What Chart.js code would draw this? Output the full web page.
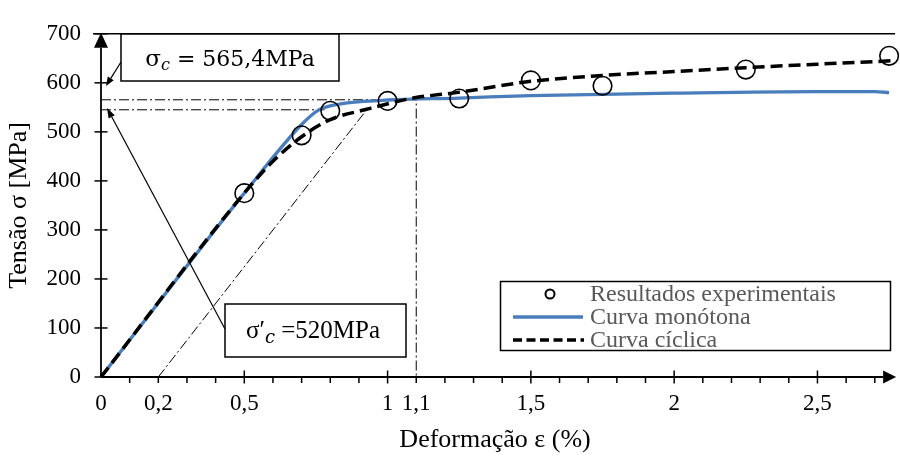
<!DOCTYPE html>
<html><head><meta charset="utf-8">
<script src="https://cdn.jsdelivr.net/npm/chart.js@4.4.0/dist/chart.umd.min.js"></script>
<style>html,body{margin:0;padding:0;background:#fff}#wrap{width:900px;height:458px}</style>
</head><body><div id="wrap"><canvas id="c" width="900" height="458"></canvas></div>
<script>
// ---- data ----
const xTickValues = [0, 0.2, 0.5, 1, 1.1, 1.5, 2, 2.5];
const yTickStep = 100;
const expStrain = [0.5, 0.7, 0.8, 1.0, 1.25, 1.5, 1.75, 2.25, 2.75];
const expStress = [375, 493, 543, 563, 568, 605, 594, 627, 655];
const monoStrain = [0, 0.5, 0.7, 0.76, 0.8, 0.86, 1.0, 1.25, 1.5, 2.0, 2.5, 2.7, 2.75];
const monoStress = [0, 375, 515, 545, 553, 559, 565, 569, 574, 579, 582, 582, 580];
const cycStrain = [0, 0.5, 0.6, 0.7, 0.8, 0.92, 1.09, 1.24, 1.5, 1.75, 2.0, 2.25, 2.5, 2.76];
const cycStress = [0, 375, 440, 490, 525, 545, 569, 580, 603, 615, 623, 631, 638, 645];
const refUpperX = [0, 1.1, 1.1];
const refUpperY = [565.4, 565.4, 0];
const refLowerX = [0, 0.78];
const refLowerY = [545, 545];
const offsetX = [0.2, 0.927];
const offsetY = [0, 545];
const labelSigmaC = ' = 565,4MPa';
const labelSigmaPrimeC = ' =520MPa';
const legendLabels = ['Resultados experimentais', 'Curva monótona', 'Curva cíclica'];

const pts = (xs, ys) => xs.map((v, i) => ({x: v, y: ys[i]}));
const SERIF = "'Liberation Serif', 'Times New Roman', serif";
const BLUE = '#4a7dbb';
const DASHDOT = [10, 3, 2, 3];

const decor = {
  id: 'decor',
  afterDraw(chart) {
    const {ctx, chartArea: a, scales: {x, y}} = chart;
    const X = v => x.getPixelForValue(v), Y = v => y.getPixelForValue(v);
    const line = (x1, y1, x2, y2) => { ctx.beginPath(); ctx.moveTo(x1, y1); ctx.lineTo(x2, y2); ctx.stroke(); };
    const arrow = (x1, y1, x2, y2, len, hw) => {
      const ang = Math.atan2(y2 - y1, x2 - x1);
      const bx = x2 - len * Math.cos(ang), by = y2 - len * Math.sin(ang);
      line(x1, y1, bx, by);
      ctx.beginPath();
      ctx.moveTo(x2, y2);
      ctx.lineTo(bx + hw * Math.sin(ang), by - hw * Math.cos(ang));
      ctx.lineTo(bx - hw * Math.sin(ang), by + hw * Math.cos(ang));
      ctx.closePath(); ctx.fill();
    };
    ctx.save();
    ctx.strokeStyle = '#000'; ctx.fillStyle = '#000'; ctx.setLineDash([]);
    const x0 = X(0), y0 = Y(0), yTop = Y(700);
    // top border
    ctx.lineWidth = 1.6;
    line(a.left - 8, yTop, a.right + 6, yTop);
    // axes with arrows
    ctx.lineWidth = 1.8;
    arrow(x0, y0, x0, yTop - 1, 15, 7);
    arrow(x0, y0, a.right + 7, y0, 13, 6.5);
    // y ticks
    ctx.lineWidth = 1.5;
    for (let v = 0; v <= 700; v += yTickStep) line(x0 - 6.5, Y(v), x0 + 6.5, Y(v));
    // x ticks
    for (let i = 1; i <= 27; i++) {
      const v = i / 10, px = X(v);
      if (i % 5 === 0) line(px, y0 - 6.5, px, y0 + 6.5);
      else line(px, y0, px, y0 + 6);
    }
    // text helper
    const richText = (parts, cx, cy) => {
      let w = 0;
      parts.forEach(p => { ctx.font = p.font; w += ctx.measureText(p.t).width; });
      let cxp = cx - w / 2;
      ctx.textBaseline = 'alphabetic'; ctx.textAlign = 'left';
      parts.forEach(p => { ctx.font = p.font; ctx.fillText(p.t, cxp, cy + (p.dy || 0)); cxp += ctx.measureText(p.t).width; });
    };
    // annotation box 1
    ctx.lineWidth = 1.5;
    ctx.fillStyle = '#fff';
    ctx.fillRect(121, 34, 218, 47); ctx.strokeRect(121, 34, 218, 47);
    ctx.fillStyle = '#000';
    richText([
      {t: 'σ', font: "23px 'DejaVu Serif', serif"},
      {t: 'c', font: "italic 16px 'DejaVu Serif', serif", dy: 4},
      {t: labelSigmaC, font: "22px 'DejaVu Serif', serif"}
    ], 230, 66);
    ctx.lineWidth = 1.2;
    arrow(121, 62, 106, 86, 9, 3.5);
    // annotation box 2
    ctx.lineWidth = 1.5;
    ctx.fillStyle = '#fff';
    ctx.fillRect(225, 304, 181, 53); ctx.strokeRect(225, 304, 181, 53);
    ctx.fillStyle = '#000';
    richText([
      {t: 'σ′', font: "25px " + SERIF},
      {t: 'c', font: "italic 18px 'DejaVu Serif', serif", dy: 5},
      {t: labelSigmaPrimeC, font: "25px " + SERIF}
    ], 313, 338);
    ctx.lineWidth = 1.2;
    arrow(225, 329, 107, 108, 10, 3.5);
    // legend
    ctx.lineWidth = 1.5;
    ctx.fillStyle = '#fff';
    ctx.fillRect(500.5, 281.5, 390, 69); ctx.strokeRect(500.5, 281.5, 390, 69);
    const rows = [294, 317, 340];
    ctx.lineWidth = 2; ctx.strokeStyle = '#000';
    ctx.beginPath(); ctx.arc(550, rows[0], 4.5, 0, Math.PI * 2); ctx.stroke();
    ctx.strokeStyle = BLUE; ctx.lineWidth = 3.5;
    line(513, rows[1], 583, rows[1]);
    ctx.strokeStyle = '#000'; ctx.lineWidth = 3.5; ctx.setLineDash([9, 4.5]);
    line(513, rows[2], 584, rows[2]);
    ctx.setLineDash([]);
    ctx.fillStyle = '#595959'; ctx.font = '24px ' + SERIF; ctx.textBaseline = 'middle'; ctx.textAlign = 'left';
    legendLabels.forEach((t, i) => ctx.fillText(t, 590, rows[i] + 1));
    ctx.restore();
  }
};

new Chart(document.getElementById('c'), {
  type: 'scatter',
  data: {
    datasets: [
      {label: legendLabels[0], data: pts(expStrain, expStress), showLine: false,
       pointRadius: 9.3, pointBorderWidth: 1.6, pointBorderColor: '#000', pointBackgroundColor: 'rgba(0,0,0,0)', clip: false},
      {label: legendLabels[2], data: pts(cycStrain, cycStress), showLine: true, borderColor: '#000', borderWidth: 3.5,
       borderDash: [12, 6], pointRadius: 0, cubicInterpolationMode: 'monotone', clip: false},
      {label: legendLabels[1], data: pts(monoStrain, monoStress), showLine: true, borderColor: BLUE, borderWidth: 3.3,
       pointRadius: 0, cubicInterpolationMode: 'monotone', clip: false},
      {label: 'ref1', data: pts(refUpperX, refUpperY), showLine: true, borderColor: '#000', borderWidth: 1,
       borderDash: DASHDOT, pointRadius: 0, tension: 0},
      {label: 'ref2', data: pts(refLowerX, refLowerY), showLine: true, borderColor: '#000', borderWidth: 1,
       borderDash: DASHDOT, pointRadius: 0, tension: 0},
      {label: 'ref3', data: pts(offsetX, offsetY), showLine: true, borderColor: '#000', borderWidth: 1,
       borderDash: DASHDOT, pointRadius: 0, tension: 0}
    ]
  },
  options: {
    responsive: false, animation: false, devicePixelRatio: 1,
    layout: {padding: {top: 24, right: 7, bottom: 0, left: 0}},
    plugins: {legend: {display: false}, tooltip: {enabled: false}},
    scales: {
      x: {
        type: 'linear', min: 0, max: 2.75,
        afterBuildTicks(s) { s.ticks = xTickValues.map(v => ({value: v})); },
        afterFit(s) { s.height = 81; },
        ticks: {callback: v => String(v).replace('.', ','), font: {family: SERIF, size: 23}, color: '#000',
                padding: 13, maxRotation: 0, autoSkip: false},
        grid: {display: false, drawTicks: false}, border: {display: false},
        title: {display: true, text: 'Deformação ε (%)', font: {family: SERIF, size: 26}, color: '#000',
                padding: {top: 0, bottom: 2}}
      },
      y: {
        min: 0, max: 700,
        afterFit(s) { s.width = 101; },
        ticks: {stepSize: yTickStep, font: {family: SERIF, size: 23}, color: '#000', padding: 20},
        grid: {display: false, drawTicks: false}, border: {display: false},
        title: {display: true, text: 'Tensão σ [MPa]', font: {family: SERIF, size: 26}, color: '#000',
                padding: {top: 4, bottom: 0}}
      }
    }
  },
  plugins: [decor]
});
</script></body></html>
